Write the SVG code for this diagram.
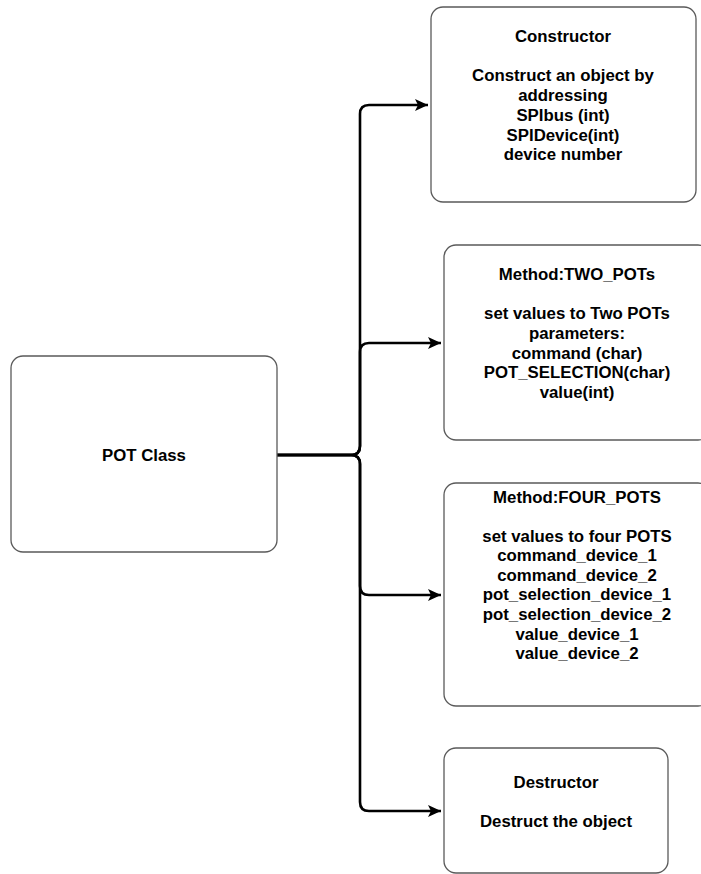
<svg xmlns="http://www.w3.org/2000/svg" width="701" height="874" viewBox="0 0 701 874">
<style>
.box{fill:#fff;stroke:#5a5a5a;stroke-width:1.3}
.t{font-family:"Liberation Sans",Arial,sans-serif;font-weight:bold;font-size:16.8px;fill:#000;text-anchor:middle}
.edge{fill:none;stroke:#000;stroke-width:2.6}
</style>
<defs>
<marker id="arr" markerUnits="userSpaceOnUse" markerWidth="16" markerHeight="14" refX="13" refY="6" orient="auto">
<path d="M0,0 L13,6 L0,12 L3,6 Z" fill="#000"/>
</marker>
</defs>
<rect width="701" height="874" fill="#fff"/>
<g id="connectors">
<path class="edge" d="M277,455 H351 Q360,455 360,446 V114 Q360,105 369,105 H428" marker-end="url(#arr)"/>
<path class="edge" d="M277,455 H351 Q360,455 360,446 V352 Q360,343 369,343 H441" marker-end="url(#arr)"/>
<path class="edge" d="M277,455 H351 Q360,455 360,464 V586 Q360,595 369,595 H441" marker-end="url(#arr)"/>
<path class="edge" d="M277,455 H351 Q360,455 360,464 V802 Q360,811 369,811 H441" marker-end="url(#arr)"/>
</g>
<g id="pot-class">
<rect class="box" x="11" y="356" width="266" height="196" rx="12"/>
<text class="t" x="144" y="461">POT Class</text>
</g>
<g id="constructor">
<rect class="box" x="431" y="7" width="265" height="195" rx="12"/>
<text class="t"><tspan x="563" y="42">Constructor</tspan><tspan x="563" y="81">Construct an object by</tspan><tspan x="563" y="101">addressing</tspan><tspan x="563" y="121">SPIbus (int)</tspan><tspan x="563" y="141">SPIDevice(int)</tspan><tspan x="563" y="160">device number</tspan></text>
</g>
<g id="two-pots">
<rect class="box" x="444" y="245" width="266" height="195" rx="12"/>
<text class="t"><tspan x="577" y="280">Method:TWO_POTs</tspan><tspan x="577" y="319">set values to Two POTs</tspan><tspan x="577" y="339">parameters:</tspan><tspan x="577" y="359">command (char)</tspan><tspan x="577" y="378">POT_SELECTION(char)</tspan><tspan x="577" y="398">value(int)</tspan></text>
</g>
<g id="four-pots">
<rect class="box" x="444" y="483" width="266" height="223" rx="12"/>
<text class="t"><tspan x="577" y="503">Method:FOUR_POTS</tspan><tspan x="577" y="542">set values to four POTS</tspan><tspan x="577" y="561">command_device_1</tspan><tspan x="577" y="581">command_device_2</tspan><tspan x="577" y="600">pot_selection_device_1</tspan><tspan x="577" y="620">pot_selection_device_2</tspan><tspan x="577" y="640">value_device_1</tspan><tspan x="577" y="659">value_device_2</tspan></text>
</g>
<g id="destructor">
<rect class="box" x="444" y="748" width="224" height="125" rx="12"/>
<text class="t"><tspan x="556" y="788">Destructor</tspan><tspan x="556" y="827">Destruct the object</tspan></text>
</g>
</svg>
